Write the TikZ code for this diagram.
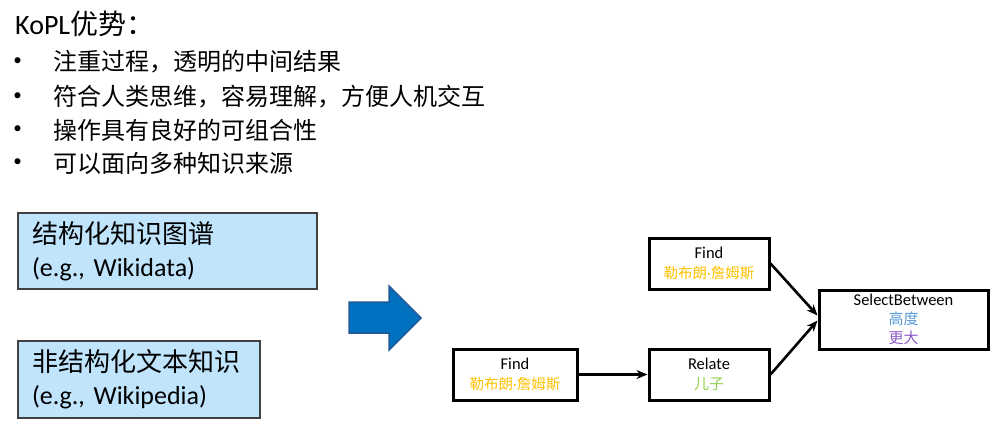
\documentclass[tikz,border=0pt]{standalone}
\usepackage{fontspec}
\setmainfont{Carlito}
\newfontfamily\cjk{Noto Sans CJK SC}
\usetikzlibrary{arrows.meta,calc}
\definecolor{boxblue}{HTML}{C0E4FC}
\definecolor{bigarrow}{HTML}{0070C0}
\definecolor{bigarrowline}{HTML}{1F5A96}
\definecolor{entcol}{HTML}{FFC000}
\definecolor{relcol}{HTML}{92D050}
\definecolor{attcol}{HTML}{5B9BD5}
\definecolor{opcol}{HTML}{8B5BC8}
\newcommand{\lbj}{{\color{entcol}\fontsize{14.5}{20}\selectfont\cjk 勒布朗\normalfont·\cjk 詹姆斯}}
\tikzset{
  srcbox/.style={draw=black!75, line width=1.2pt, fill=boxblue, inner xsep=14pt, inner ysep=0pt,
    align=left, font=\fontsize{26}{33}\selectfont},
  opbox/.style={draw=black, line width=3pt, inner sep=0pt, align=center,
    font=\fontsize{16.5}{20}\selectfont},
  conn/.style={line width=2.6pt, -{Stealth[length=11pt,width=9pt]}},
  bullettext/.style={anchor=west, inner sep=0pt, font=\fontsize{24}{28}\selectfont\cjk},
  bulletdot/.style={anchor=center, inner sep=0pt, font=\fontsize{17}{20}\selectfont}
}
\begin{document}
\begin{tikzpicture}[x=1pt,y=-1pt]
\useasboundingbox (0,0) rectangle (1001,429);
% title
\node[anchor=west, inner sep=0pt, font=\fontsize{28}{32}\selectfont] (title) at (15,24) {KoPL{\cjk 优势：}};
% bullets
\node[bulletdot] (b1) at (17.5,62) {•};
\node[bullettext] (t1) at (53,62) {注重过程，透明的中间结果};
\node[bulletdot] (b2) at (17.5,97) {•};
\node[bullettext] (t2) at (53,97) {符合人类思维，容易理解，方便人机交互};
\node[bulletdot] (b3) at (17.5,130) {•};
\node[bullettext] (t3) at (53,130) {操作具有良好的可组合性};
\node[bulletdot] (b4) at (17.5,163) {•};
\node[bullettext] (t4) at (53,163) {可以面向多种知识来源};
% source boxes
\node[srcbox, text width=271pt, minimum height=76pt] (kb) at (167.5,251) {{\cjk 结构化知识图谱}\\(e.g., Wikidata)};
\node[srcbox, text width=214pt, minimum height=77pt] (text) at (139,379.5) {{\cjk 非结构化文本知识}\\(e.g., Wikipedia)};
% big arrow
\draw[fill=bigarrow, draw=bigarrowline, line width=1.5pt, line join=miter]
  (349,302) -- (389,302) -- (389,286) -- (421,318) -- (389,350) -- (389,333) -- (349,333) -- cycle;
% program graph
\node[opbox, minimum width=120pt, minimum height=51pt] (find1) at (709,263.5)
  {Find\\\lbj};
\node[opbox, minimum width=124pt, minimum height=51pt] (find2) at (515,374.5)
  {Find\\\lbj};
\node[opbox, minimum width=120pt, minimum height=51pt] (relate) at (709,374.5)
  {Relate\\{\cjk\fontsize{15}{20}\selectfont\color{relcol}儿子}};
\node[opbox, minimum width=169pt, minimum height=59pt, font=\fontsize{16.5}{19}\selectfont] (sel) at (903.5,319.5)
  {SelectBetween\\{\cjk\fontsize{15}{19}\selectfont\color{attcol}高度}\\{\cjk\fontsize{15}{19}\selectfont\color{opcol}更大}};
\draw[conn] (find2.east) -- (relate.west);
\draw[conn] (find1.east) -- ([yshift=4pt]sel.west);
\draw[conn] (relate.east) -- ([yshift=-1pt]sel.west);
\end{tikzpicture}
\end{document}
